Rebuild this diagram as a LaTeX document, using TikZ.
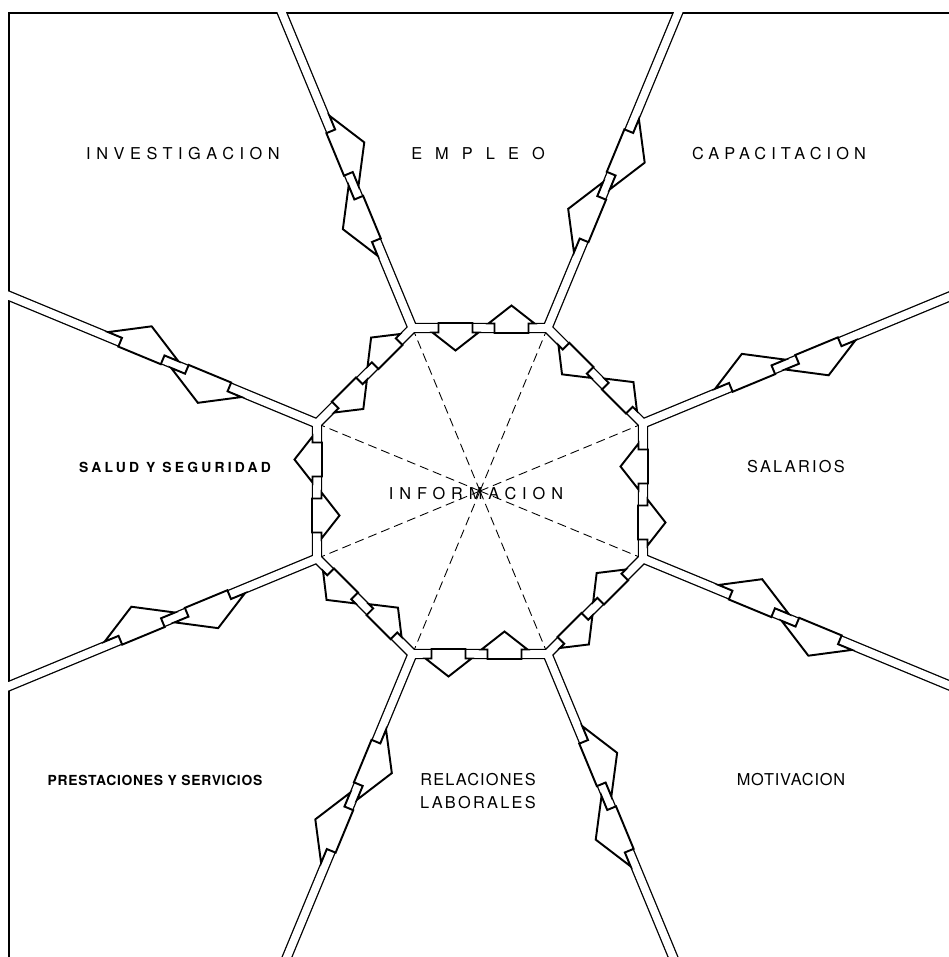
\documentclass[tikz,border=0pt]{standalone}
\usepackage{fontspec}
\setmainfont{TeX Gyre Heros}
\usetikzlibrary{calc}

% espaciado de letras para los rotulos
\newcommand{\espaciado}[2]{{\addfontfeatures{LetterSpace=#1}#2}}

% una flecha sobre el canal: punto, giro, lado, semibase, semicaja, altura
\newcommand{\flecha}[6]{%
  \begin{scope}[shift={#1}, rotate=#2, yscale=#3]
    \draw[bloque] (-#4,4.5) -- (0,4.5+#6) -- (#4,4.5) -- (#5,4.5)
      -- (#5,-5) -- (-#5,-5) -- (-#5,4.5) -- cycle;
  \end{scope}}

\begin{document}
\begin{tikzpicture}[
    x=0.02cm, y=-0.02cm,
    canalnegro/.style={line width=0.206cm, line join=miter},
    canalblanco/.style={white, line width=0.154cm, line join=miter},
    bloque/.style={fill=white, draw=black, line width=1.1pt, line join=miter},
    rayo/.style={line width=0.5pt, dash pattern=on 0.18cm off 0.1cm},
    marco/.style={line width=1.3pt},
    rotulo/.style={inner sep=0pt, font=\fontsize{9.3}{13}\selectfont},
    rotulonegro/.style={inner sep=0pt, font=\fontsize{7.9}{10}\selectfont\bfseries},
  ]
  \useasboundingbox (0,0) rectangle (949,957);

  % --- el octagono central -----------------------------------------
  \coordinate (C) at (480,491);
  \foreach \i in {1,...,8}{%
    \pgfmathsetmacro{\ang}{45*\i-22.5}
    \coordinate (v\i) at ($(C)+(\ang:176.4)$);
    \coordinate (e\i) at ($(C)+(\ang:1000)$);
  }

  % --- radios punteados hacia los vertices ---------------------------
  \foreach \i in {1,...,8}{%
    \draw[rayo] (C) -- (v\i);
  }

  % --- canales dobles: primero el trazo negro, luego el blanco ---------
  \begin{scope}
    \clip (9,13) rectangle (949,957);
    \draw[canalnegro] (v1) -- (v2) -- (v3) -- (v4) -- (v5) -- (v6) -- (v7) -- (v8) -- cycle;
    \foreach \i in {1,...,8}{\draw[canalnegro] (v\i) -- (e\i);}
  \end{scope}
  \draw[marco] (9,957) -- (9,13) -- (949,13);
  \begin{scope}
    \clip (6,10) rectangle (949,957);
    \draw[canalblanco] (v1) -- (v2) -- (v3) -- (v4) -- (v5) -- (v6) -- (v7) -- (v8) -- cycle;
    \foreach \i in {1,...,8}{\draw[canalblanco] (v\i) -- (e\i);}
  \end{scope}

  % --- flechas sobre los lados del octagono ---------------------------
  \foreach \i in {1,...,8}{%
    \pgfmathsetmacro{\a}{-22.5-45*\i}
    \pgfmathsetmacro{\dir}{\a-112.5}
    \pgfmathsetmacro{\nor}{\a-22.5}
    \pgfmathsetmacro{\giro}{112.5-\a}
    \flecha{($(C)+(\nor:163)+(\dir:-31.5)$)}{\giro}{1}{23}{17}{18}
    \flecha{($(C)+(\nor:163)+(\dir:24.5)$)}{\giro}{-1}{23}{17}{18}
  }

  % --- flechas sobre los radios ---------------------------------------
  \foreach \i in {1,...,8}{%
    \pgfmathsetmacro{\ang}{45*\i-22.5}
    \pgfmathsetmacro{\giro}{-\ang}
    \flecha{($(C)+(\ang:294.4)$)}{\giro}{-1}{38}{23}{22}
    \flecha{($(C)+(\ang:366.4)$)}{\giro}{1}{38}{23}{22}
  }

  % --- rotulos -------------------------------------------------------
  \node[rotulo] (investigacion) at (183,154) {\espaciado{34}{INVESTIGACION}};
  \node[rotulo] (empleo) at (478,154) {\espaciado{80}{EMPLEO}};
  \node[rotulo] (capacitacion) at (779,154) {\espaciado{31}{CAPACITACION}};
  \node[rotulonegro] (salud) at (175,467) {\espaciado{23}{SALUD Y SEGURIDAD}};
  \node[rotulo] (informacion) at (476,494) {\espaciado{36}{INFORMACION}};
  \node[rotulo] (salarios) at (796,467) {\espaciado{14}{SALARIOS}};
  \node[rotulonegro] (prestaciones) at (155,780) {\espaciado{5}{PRESTACIONES Y SERVICIOS}};
  \node[rotulo, align=center] (relaciones) at (478,791)
    {\espaciado{7}{RELACIONES}\\\espaciado{14}{LABORALES}};
  \node[rotulo] (motivacion) at (791,780) {\espaciado{5}{MOTIVACION}};

\end{tikzpicture}
\end{document}
